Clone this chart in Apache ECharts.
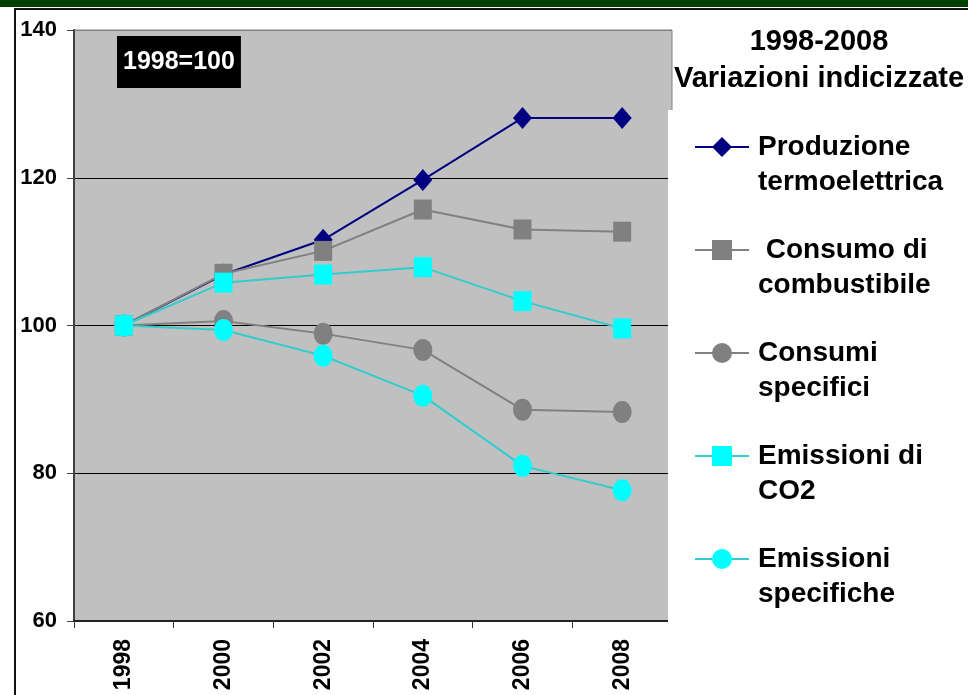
<!DOCTYPE html>
<html>
<head>
<meta charset="utf-8">
<script src="https://cdn.jsdelivr.net/npm/echarts@6/dist/echarts.min.js"></script>
<style>html,body{margin:0;padding:0;background:#fff;}#c{width:968px;height:695px;}</style>
</head>
<body>
<div id="c"></div>
<script>
// ---- data ----
var years = ['1998', '2000', '2002', '2004', '2006', '2008'];
var produzione = [100, 106.9, 111.6, 119.7, 128.1, 128.1];
var consumoCombustibile = [100, 107.0, 110.1, 115.7, 113.0, 112.7];
var consumiSpecifici = [100, 100.6, 98.9, 96.7, 88.6, 88.3];
var emissioniCO2 = [100, 105.8, 106.9, 107.9, 103.3, 99.6];
var emissioniSpecifiche = [100, 99.4, 95.9, 90.5, 81.0, 77.7];
var seriesNames = ['Produzione\ntermoelettrica', ' Consumo di\ncombustibile', 'Consumi\nspecifici', 'Emissioni di\nCO2', 'Emissioni\nspecifiche'];
var yTicks = [60, 80, 100, 120, 140];
var titleText = '1998-2008\nVariazioni indicizzate';
var baseText = '1998=100';

var FONT = '"Liberation Sans", Arial, sans-serif';
var chart = echarts.init(document.getElementById('c'), null, {renderer: 'canvas'});

function mkSeries(name, data, symbol, size, fill, line) {
  return {
    name: name, type: 'line', data: data,
    symbol: symbol, symbolSize: size, showAllSymbol: true,
    itemStyle: {color: fill},
    lineStyle: {color: line, width: 2},
    emphasis: {disabled: true},
    animation: false
  };
}

var option = {
  animation: false,
  backgroundColor: '#fff',
  textStyle: {fontFamily: FONT},
  title: [
    {
      text: titleText, left: 819, top: 23, textAlign: 'center', padding: 0,
      textStyle: {fontFamily: FONT, fontSize: 29, fontWeight: 'bold', color: '#000', lineHeight: 37}
    },
    {
      text: baseText, left: 117, top: 36, padding: [13, 6, 13, 6], backgroundColor: '#000',
      textStyle: {fontFamily: FONT, fontSize: 25, fontWeight: 'bold', color: '#fff', lineHeight: 26}
    }
  ],
  legend: {
    orient: 'vertical', left: 694, top: 133, padding: 0,
    itemWidth: 54, itemHeight: 25, itemGap: 40,
    selectedMode: false,
    data: seriesNames,
    formatter: function (n) {
      return n.split('\n').map(function (s) { return '{a|' + s + '}'; }).join('\n');
    },
    textStyle: {
      height: 35, padding: [0, 0, 0, 4],
      rich: {a: {fontFamily: FONT, fontSize: 28, fontWeight: 'bold', color: '#000', lineHeight: 35}}
    }
  },
  grid: {
    left: 74, top: 30, right: 296, bottom: 74,
    show: true, backgroundColor: '#c0c0c0', borderColor: '#808080', borderWidth: 1,
    containLabel: false, outerBoundsMode: 'none'
  },
  xAxis: {
    type: 'category', data: years, boundaryGap: true,
    axisLine: {lineStyle: {color: '#222', width: 2}},
    axisTick: {show: true, length: 7, lineStyle: {color: '#333', width: 1}},
    axisLabel: {rotate: 90, margin: 18, fontFamily: FONT, fontSize: 23, fontWeight: 'bold', color: '#000', interval: 0},
    splitLine: {show: false}
  },
  yAxis: {
    type: 'value', min: yTicks[0], max: yTicks[yTicks.length - 1], interval: 20,
    axisLine: {show: true, lineStyle: {color: '#404040', width: 2}},
    axisTick: {show: true, length: 7, lineStyle: {color: '#404040', width: 1}},
    axisLabel: {margin: 17, fontFamily: FONT, fontSize: 22, fontWeight: 'bold', color: '#000'},
    splitLine: {show: true, lineStyle: {color: ['#000', '#000', '#000', '#000', '#808080'], width: 1}}
  },
  graphic: [
    {type: 'rect', z: 1, shape: {x: 668, y: 110, width: 300, height: 585}, style: {fill: '#fff'}, silent: true},
    {type: 'rect', z: 10, shape: {x: 0, y: 0, width: 968, height: 7}, style: {fill: '#003f00'}, silent: true},
    {type: 'rect', z: 10, shape: {x: 14, y: 8, width: 954, height: 2}, style: {fill: '#111'}, silent: true},
    {type: 'rect', z: 10, shape: {x: 14, y: 8, width: 2, height: 687}, style: {fill: '#111'}, silent: true}
  ],
  series: [
    mkSeries(seriesNames[0], produzione, 'diamond', [19, 22], '#000080', '#000080'),
    mkSeries(seriesNames[1], consumoCombustibile, 'rect', [18, 20], '#808080', '#808080'),
    mkSeries(seriesNames[2], consumiSpecifici, 'circle', [19, 22], '#808080', '#808080'),
    mkSeries(seriesNames[3], emissioniCO2, 'rect', [18, 20], '#00ffff', '#33cccc'),
    mkSeries(seriesNames[4], emissioniSpecifiche, 'circle', [19, 22], '#00ffff', '#33cccc')
  ]
};
chart.setOption(option);
</script>
</body>
</html>
